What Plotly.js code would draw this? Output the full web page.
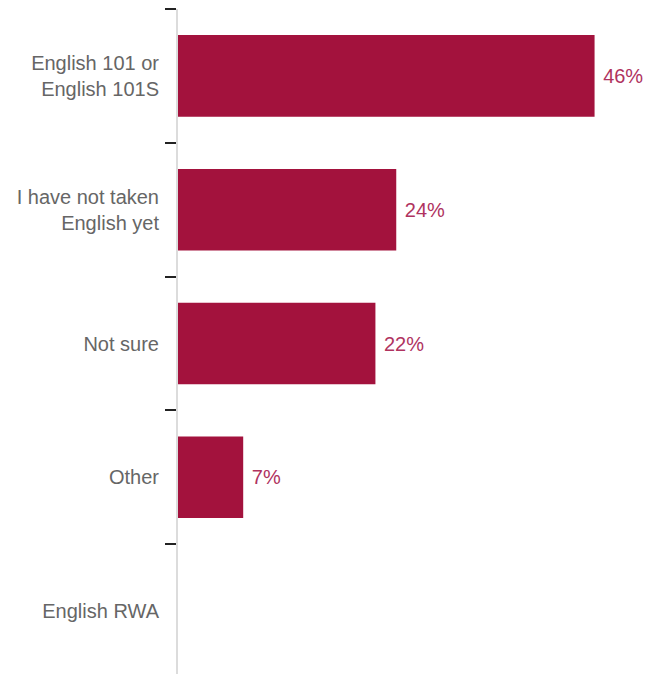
<!DOCTYPE html>
<html>
<head>
<meta charset="utf-8">
<script src="https://cdn.plot.ly/plotly-3.0.1.min.js"></script>
<style>html,body{margin:0;padding:0;background:#fff;}#chart{width:648px;height:674px;}</style>
</head>
<body>
<div id="chart"></div>
<script>
var categories = ["English 101 or<br>English 101S", "I have not taken<br>English yet", "Not sure", "Other", "English RWA"];
var values = [46.0, 24.1, 21.8, 7.2, 0];
var labels = ["46%", "24%", "22%", "7%", ""];

var trace = {
  type: "bar",
  orientation: "h",
  y: categories,
  x: values,
  text: labels.map(function(t){ return t ? " " + t : ""; }),
  textposition: "outside",
  cliponaxis: false,
  constraintext: "none",
  textfont: {family: "Liberation Sans, Arial, sans-serif", size: 20, color: "#b0335f"},
  marker: {color: "#a3123d"},
  hoverinfo: "none"
};

var layout = {
  width: 648, height: 674,
  margin: {l: 178, r: 0, t: 9, b: 0},
  paper_bgcolor: "#fff", plot_bgcolor: "#fff",
  showlegend: false,
  bargap: 0.39,
  xaxis: {range: [0, 51.9], visible: false, fixedrange: true},
  yaxis: {
    type: "category",
    range: [4.47, -0.5],
    tickson: "boundaries",
    ticks: "outside", ticklen: 11, tickwidth: 2, tickcolor: "#222",
    ticklabelstandoff: 13,
    showline: true, linecolor: "#dcdcdc", linewidth: 2,
    showgrid: false, zeroline: false,
    tickfont: {family: "Liberation Sans, Arial, sans-serif", size: 20, color: "#666"},
    automargin: false,
    fixedrange: true
  },
  font: {family: "Liberation Sans, Arial, sans-serif"}
};

Plotly.newPlot("chart", [trace], layout, {displayModeBar: false, staticPlot: true});
</script>
</body>
</html>
